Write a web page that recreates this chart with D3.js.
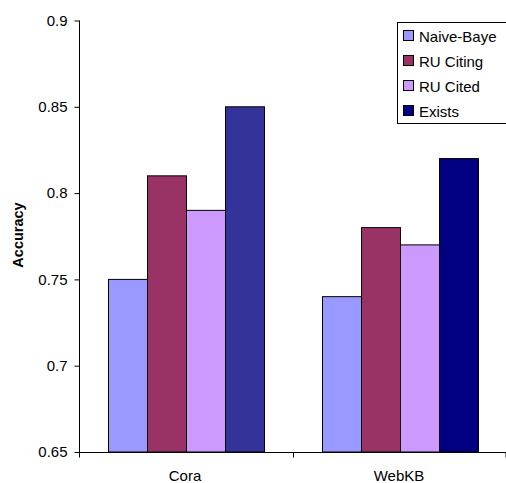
<!DOCTYPE html>
<html><head><meta charset="utf-8">
<script src="https://cdn.jsdelivr.net/npm/d3@7"></script>
<style>body{margin:0;background:#fff}svg{display:block}text{font-family:"Liberation Sans",Arial,sans-serif}</style>
</head><body>
<script>
const categories = ["Cora", "WebKB"];
const seriesNames = ["Naive-Baye", "RU Citing", "RU Cited", "Exists"];
const coraValues = [0.75, 0.81, 0.79, 0.85];
const webkbValues = [0.74, 0.78, 0.77, 0.82];
const yTicks = [0.65, 0.7, 0.75, 0.8, 0.85, 0.9];
const colors = ["#9999FF", "#993366", "#CC99FF", "#000080"];
const coraExistsColor = "#333399";

const values = [coraValues, webkbValues];
const W = 506, H = 483;
const svg = d3.select("body").append("svg").attr("width", W).attr("height", H);

const x0 = d3.scaleBand().domain(categories).range([79, 507]).paddingInner(0).paddingOuter(0);
const y = d3.scaleLinear().domain([0.65, 0.9]).range([452, 20.5]);
const barW = 39;
const x1 = d3.scaleBand().domain(seriesNames).range([0, barW * 4]);

categories.forEach((c, ci) => {
  const g = svg.append("g").attr("transform", `translate(${x0(c) + (x0.bandwidth() - barW * 4) / 2},0)`);
  seriesNames.forEach((s, si) => {
    const v = values[ci][si];
    let col = colors[si];
    if (si === 3 && ci === 0) col = coraExistsColor;
    g.append("rect")
      .attr("x", x1(s) + 0.5)
      .attr("y", y(v))
      .attr("width", barW)
      .attr("height", y(0.65) - y(v))
      .attr("fill", col)
      .attr("stroke", "#000")
      .attr("stroke-width", 1);
  });
});

// Y axis
const yAxis = d3.axisLeft(y).tickValues(yTicks).tickSize(5).tickPadding(7)
  .tickFormat(d => String(+d.toFixed(2)));
const ya = svg.append("g").attr("transform", "translate(79.5,0)").call(yAxis);
ya.select(".domain").attr("d", `M0,${y(0.9)}V${y(0.65)}`);
ya.selectAll("text").attr("font-size", 15).attr("fill", "#000").style("font-family", '"Liberation Sans",Arial,sans-serif');

// X axis
const xa = svg.append("g").attr("transform", `translate(0,${y(0.65) + 0.5})`);
xa.append("line").attr("x1", 79).attr("x2", 506).attr("stroke", "#000");
const bounds = [x0("Cora"), x0("WebKB"), x0("WebKB") + x0.bandwidth() - 1.5];
bounds.forEach(b => xa.append("line").attr("x1", b + 0.5).attr("x2", b + 0.5).attr("y1", 0).attr("y2", 5).attr("stroke", "#000"));
categories.forEach(c => {
  xa.append("text").attr("x", x0(c) + x0.bandwidth() / 2 - 1).attr("y", 28.5)
    .attr("text-anchor", "middle").attr("font-size", 15).text(c);
});

// Y label
svg.append("text").attr("transform", "translate(23,235) rotate(-90)")
  .attr("text-anchor", "middle").attr("font-size", 14.5).attr("font-weight", "bold").text("Accuracy");

// Legend
const lg = svg.append("g");
lg.append("rect").attr("x", 397.5).attr("y", 22.5).attr("width", 120).attr("height", 101)
  .attr("fill", "#fff").attr("stroke", "#000");
seriesNames.forEach((s, i) => {
  const cy = 36 + i * 25;
  lg.append("rect").attr("x", 403.5).attr("y", cy - 5.5).attr("width", 10).attr("height", 10)
    .attr("fill", colors[i]).attr("stroke", "#000");
  lg.append("text").attr("x", 419).attr("y", cy + 5.5).attr("font-size", 15).text(s);
});
</script>
</body></html>
